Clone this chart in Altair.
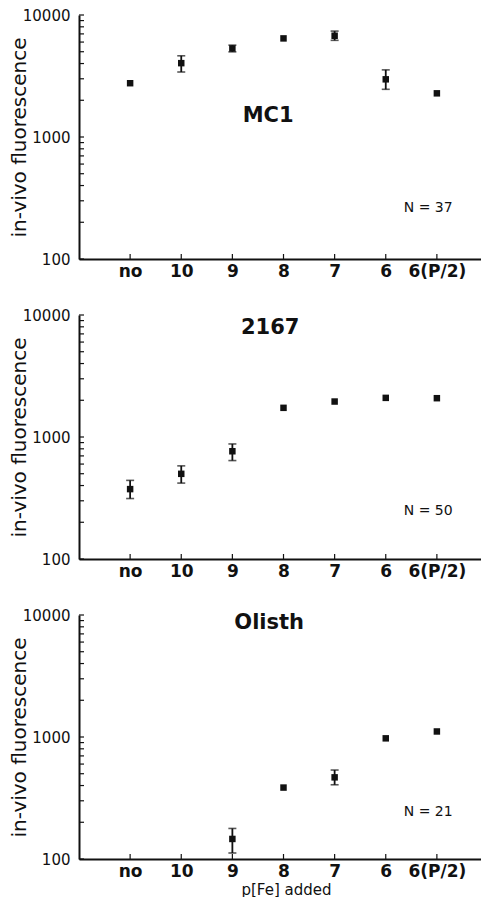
import json
import altair as alt
import pandas as pd

# ---------------- data ----------------
categories = ["no", "10", "9", "8", "7", "6", "6(P/2)"]
panel_names = ["MC1", "2167", "Olisth"]

mc1_mean = [2760, 4030, 5320, 6430, 6760, 2970, 2280]
mc1_lo = [None, 3410, 4990, None, 6200, 2460, None]
mc1_hi = [None, 4630, 5660, None, 7380, 3550, None]

s2167_mean = [374, 499, 764, 1734, 1953, 2093, 2080]
s2167_lo = [313, 419, 641, None, None, None, None]
s2167_hi = [441, 580, 877, None, None, None, None]

olisth_mean = [None, None, 146, 385, 467, 975, 1110]
olisth_lo = [None, None, 112, None, 406, None, None]
olisth_hi = [None, None, 178, None, 536, None, None]

n_labels = ["N = 37", "N = 50", "N = 21"]
n_label_x = [5.83, 5.83, 5.83]
n_label_y = [263, 247, 245]

title_x = [2.70, 2.74, 2.72]
title_y = [1500, 7800, 8600]

y_minor_ticks = [100, 200, 300, 400, 500, 600, 700, 800, 900,
                 1000, 2000, 3000, 4000, 5000, 6000, 7000, 8000, 9000, 10000]
y_label_values = [100, 1000, 10000]

x_title = "p[Fe] added"
y_title = "in-vivo fluorescence"

# ---------------- build tables ----------------
series = [
    (mc1_mean, mc1_lo, mc1_hi),
    (s2167_mean, s2167_lo, s2167_hi),
    (olisth_mean, olisth_lo, olisth_hi),
]
rows = []
for name, (means, los, his) in zip(panel_names, series):
    for i, (m, lo, hi) in enumerate(zip(means, los, his)):
        rows.append(dict(panel=name, idx=i, cat=categories[i], mean=m, lo=lo, hi=hi))
df = pd.DataFrame(rows)

xtick_df = pd.DataFrame({"idx": list(range(len(categories)))})
ytick_df = pd.DataFrame({"v": y_minor_ticks})

W, H = 402, 244
INK = "#111111"

xscale = alt.Scale(domain=[-1, 6.863], nice=False, zero=False)
yscale = alt.Scale(type="log", domain=[100, 10000], nice=False)

label_expr = json.dumps(categories) + "[datum.value]"


def make_panel(k, show_xtitle):
    name = panel_names[k]
    x_kwargs = dict(
        values=list(range(len(categories))),
        labelExpr=label_expr,
        ticks=False,
        grid=False,
        domainWidth=2,
        domainColor=INK,
        labelColor=INK,
        labelFont="DejaVu Sans",
        labelFontWeight="bold",
        labelFontSize=17,
        labelPadding=4,
        labelFlush=False,
    )
    if show_xtitle:
        x_kwargs.update(title=x_title, titleFont="DejaVu Sans", titleFontSize=15,
                        titleFontWeight="normal", titleColor=INK, titlePadding=3,
                        titleX=207, titleAlign="center")
    else:
        x_kwargs.update(title=None)
    x_axis = alt.Axis(**x_kwargs)
    y_axis = alt.Axis(
        values=y_label_values,
        format="d",
        ticks=False,
        grid=False,
        domainWidth=2,
        domainColor=INK,
        labelColor=INK,
        labelFont="DejaVu Sans",
        labelFontSize=15,
        labelPadding=9,
        title=y_title,
        titleFont="DejaVu Sans",
        titleFontSize=20,
        titleFontWeight="normal",
        titleColor=INK,
        titleX=-54,
        titleBaseline="alphabetic",
    )

    def X(f):
        return alt.X(f, type="quantitative", scale=xscale, axis=x_axis)

    def Y(f):
        return alt.Y(f, type="quantitative", scale=yscale, axis=y_axis)

    base = alt.Chart(df).transform_filter(alt.datum.panel == name)

    pts = base.transform_filter("isValid(datum.mean)").mark_square(
        size=42, color=INK, opacity=1
    ).encode(x=X("idx"), y=Y("mean"))

    err = base.transform_filter("isValid(datum.lo)").mark_rule(
        color=INK, strokeWidth=1.8
    ).encode(x=X("idx"), y=Y("lo"), y2="hi:Q")

    cap_lo = base.transform_filter("isValid(datum.lo)").mark_tick(
        color=INK, orient="horizontal", size=8, thickness=1.6
    ).encode(x=X("idx"), y=Y("lo"))

    cap_hi = base.transform_filter("isValid(datum.hi)").mark_tick(
        color=INK, orient="horizontal", size=8, thickness=1.6
    ).encode(x=X("idx"), y=Y("hi"))

    yt = alt.Chart(ytick_df).mark_rule(color=INK, strokeWidth=1.2).encode(
        y=Y("v"), x=alt.value(0), x2=alt.value(5)
    )
    xt = alt.Chart(xtick_df).mark_rule(color=INK, strokeWidth=1.2).encode(
        x=X("idx"), y=alt.value(H), y2=alt.value(H - 5)
    )

    ttl = alt.Chart(pd.DataFrame({"x": [title_x[k]], "y": [title_y[k]], "t": [name]})).mark_text(
        font="DejaVu Sans", fontWeight="bold", fontSize=21, color=INK, baseline="middle"
    ).encode(x=X("x"), y=Y("y"), text="t:N")

    nlab = alt.Chart(pd.DataFrame({"x": [n_label_x[k]], "y": [n_label_y[k]], "t": [n_labels[k]]})).mark_text(
        font="DejaVu Sans", fontSize=14, color=INK, baseline="middle"
    ).encode(x=X("x"), y=Y("y"), text="t:N")

    return alt.layer(pts, err, cap_lo, cap_hi, yt, xt, ttl, nlab).properties(width=W, height=H)


chart = alt.vconcat(
    make_panel(0, False),
    make_panel(1, False),
    make_panel(2, True),
    spacing=56,
    bounds="flush",
).configure_view(stroke=None).properties(
    padding={"left": 0, "top": 0, "right": 0, "bottom": 0}, background="white"
)

chart.save("out.html", embed_options={"renderer": "svg", "actions": False})
